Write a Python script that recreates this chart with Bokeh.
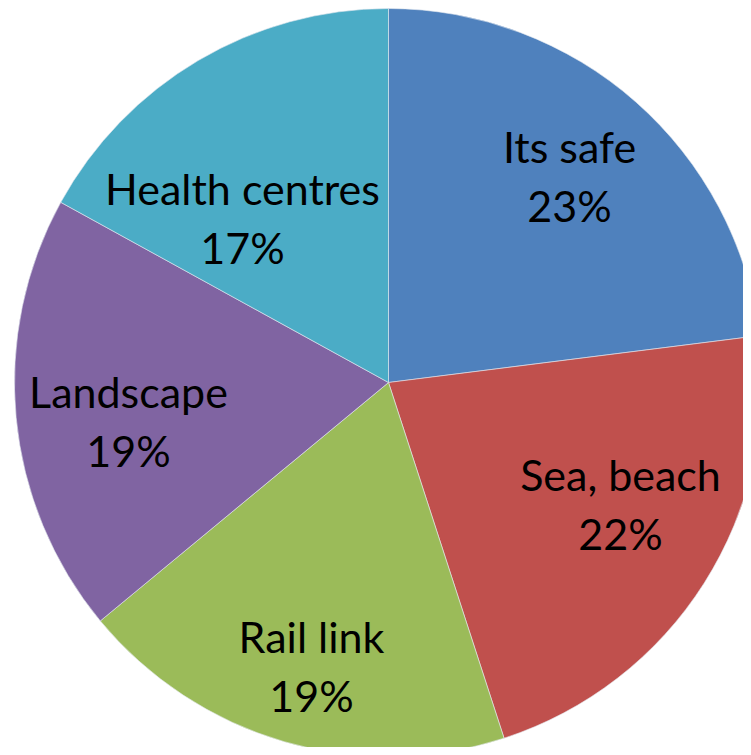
import math
from bokeh.plotting import figure
from bokeh.models import Range1d, ColumnDataSource
from bokeh.core.properties import value
from bokeh.embed import file_html
from bokeh.resources import INLINE

categories = ["Its safe", "Sea, beach", "Rail link", "Landscape", "Health centres"]
percentages = [23, 22, 19, 19, 17]
colors = ["#4F81BD", "#C0504D", "#9BBB59", "#8064A2", "#4BACC6"]

# label placement: offsets of first-line anchor from pie centre (screen px, down positive)
label_dx = [181, 232, -77, -260, -146]
label_dy = [-236, 92, 254, 9, -194]
line_gap = 58.5

W, H = 743, 747
cx, cy_screen, R = 388, 382, 374
cy = H - cy_screen

total = sum(percentages)
starts, ends = [], []
cum = 0.0
for v in percentages:
    a0 = math.pi / 2 - 2 * math.pi * (cum + v) / total
    a1 = math.pi / 2 - 2 * math.pi * cum / total
    starts.append(a0)
    ends.append(a1)
    cum += v

src = ColumnDataSource(dict(start=starts, end=ends, color=colors,
                            x=[cx] * len(percentages), y=[cy] * len(percentages)))

p = figure(width=W, height=H, output_backend="svg", toolbar_location=None,
           x_range=Range1d(0, W), y_range=Range1d(0, H),
           min_border=0)
p.axis.visible = False
p.grid.visible = False
p.outline_line_color = None
p.background_fill_color = "white"
p.border_fill_color = "white"

p.wedge(x="x", y="y", radius=R, start_angle="start", end_angle="end",
        fill_color="color", line_color="#e4eaf0", line_width=0.6,
        source=src)

lx = [cx + dx for dx in label_dx]
ly = [cy - dy for dy in label_dy]
name_src = ColumnDataSource(dict(x=lx, y=ly, t=categories))
pct_src = ColumnDataSource(dict(x=lx, y=[y - line_gap for y in ly],
                                t=[f"{v}%" for v in percentages]))
for s in (name_src, pct_src):
    p.text(x="x", y="y", text="t", source=s, text_align="center",
           text_baseline="alphabetic", text_font=value("Lato"),
           text_font_size="43px", text_color="black")

open("out.html", "w").write(file_html(p, INLINE))
